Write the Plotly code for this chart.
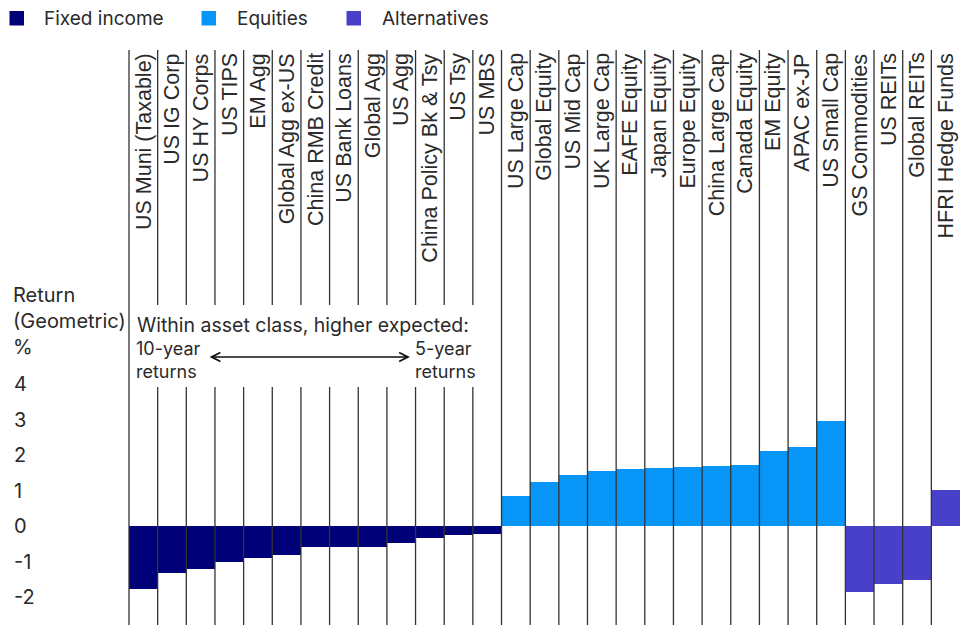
import plotly.graph_objects as go

categories = [
    "US Muni (Taxable)", "US IG Corp", "US HY Corps", "US TIPS", "EM Agg",
    "Global Agg ex-US", "China RMB Credit", "US Bank Loans", "Global Agg", "US Agg",
    "China Policy Bk & Tsy", "US Tsy", "US MBS",
    "US Large Cap", "Global Equity", "US Mid Cap", "UK Large Cap", "EAFE Equity",
    "Japan Equity", "Europe Equity", "China Large Cap", "Canada Equity", "EM Equity",
    "APAC ex-JP", "US Small Cap",
    "GS Commodities", "US REITs", "Global REITs", "HFRI Hedge Funds",
]
returns = [
    -1.77, -1.31, -1.21, -1.00, -0.89, -0.82, -0.58, -0.58, -0.58, -0.47, -0.33, -0.24, -0.22,
    0.85, 1.24, 1.44, 1.55, 1.61, 1.63, 1.66, 1.69, 1.72, 2.11, 2.22, 2.96,
    -1.85, -1.62, -1.51, 1.01,
]
groups = ["Fixed income"] * 13 + ["Equities"] * 12 + ["Alternatives"] * 4
group_names = ["Fixed income", "Equities", "Alternatives"]
group_colors = {"Fixed income": "#000078", "Equities": "#0795F7", "Alternatives": "#4840C9"}
tick_vals = [-2, -1, 0, 1, 2, 3, 4]
tick_text = ["-2", "-1", "0", "1", "2", "3", "4"]

W, H = 971, 625
TXT = "#2a2a2a"
SANS = "Inter, 'Noto Sans', sans-serif"

fig = go.Figure()
for g in group_names:
    xs = [c for c, gg in zip(categories, groups) if gg == g]
    ys = [v for v, gg in zip(returns, groups) if gg == g]
    fig.add_trace(go.Bar(x=xs, y=ys, name=g, marker=dict(color=group_colors[g], line=dict(width=0)),
                         width=1.0, showlegend=False))

n = len(categories)
px_per = (960 - 129) / n
x_left = -0.5 - 129 / px_per
x_right = n - 0.5 + (W - 960) / px_per
zero_px = 526
unit_px = 35.5
y_bot = -(H - zero_px) / unit_px
y_top = zero_px / unit_px


def py(p):
    return 1 - p / H


def pxx(p):
    return p / W


shapes = []
top_line = py(50)
gap_top = py(305)
gap_bot = py(387)
for i in range(n):
    xb = i - 0.5
    if 1 <= i <= 12:
        segs = [(top_line, gap_top), (gap_bot, 0)]
    else:
        segs = [(top_line, 0)]
    for a, b in segs:
        shapes.append(dict(type="line", xref="x", yref="paper", x0=xb, x1=xb, y0=a, y1=b,
                           line=dict(color="#333333", width=1.3), layer="above"))

annotations = []
for i, c in enumerate(categories):
    annotations.append(dict(x=i, y=top_line - 0.002, xref="x", yref="paper", text=c, textangle=-90,
                            showarrow=False, xanchor="center", yanchor="top",
                            font=dict(family="'Liberation Sans', Arial, sans-serif", size=21.5, color=TXT)))

# legend (manual, matching reference placement)
legend_sq_x = [9.5, 201.5, 346.5]
legend_txt_x = [42, 235, 380]
for g, sx, tx in zip(group_names, legend_sq_x, legend_txt_x):
    shapes.append(dict(type="rect", xref="paper", yref="paper", x0=pxx(sx), x1=pxx(sx + 14.5),
                       y0=py(25.5), y1=py(11), fillcolor=group_colors[g], line=dict(width=0)))
    annotations.append(dict(x=pxx(tx), y=py(18.5), xref="paper", yref="paper", text=g, showarrow=False,
                            xanchor="left", yanchor="middle", font=dict(family=SANS, size=19, color=TXT)))

annotations.append(dict(x=pxx(11), y=py(281), xref="paper", yref="paper",
                        text="Return<br>(Geometric)<br>%", showarrow=False, align="left",
                        xanchor="left", yanchor="top", font=dict(family=SANS, size=20, color=TXT)))
annotations.append(dict(x=pxx(135), y=py(325), xref="paper", yref="paper",
                        text="Within asset class, higher expected:", showarrow=False,
                        xanchor="left", yanchor="middle", font=dict(family=SANS, size=19.5, color=TXT)))
for txt, xp in [("10-year<br>returns", 134), ("5-year<br>returns", 413)]:
    annotations.append(dict(x=pxx(xp), y=py(359.5), xref="paper", yref="paper", text=txt, showarrow=False,
                            align="left", xanchor="left", yanchor="middle",
                            font=dict(family=SANS, size=18, color=TXT)))
annotations.append(dict(x=pxx(410), y=py(357), xref="paper", yref="paper", text="", showarrow=True,
                        ax=-202, ay=0, axref="pixel", ayref="pixel", arrowhead=5, arrowside="end+start",
                        arrowsize=1.1, arrowwidth=1.6, arrowcolor="#111", standoff=0, startstandoff=0))

fig.update_layout(
    width=W, height=H,
    margin=dict(l=0, r=0, t=0, b=0, autoexpand=False),
    paper_bgcolor="white", plot_bgcolor="white",
    bargap=0, barmode="overlay",
    showlegend=False,
    xaxis=dict(type="category", categoryorder="array", categoryarray=categories,
               range=[x_left, x_right], showticklabels=False, showgrid=False, zeroline=False,
               showline=False, ticks="", fixedrange=True, automargin=False),
    yaxis=dict(range=[y_bot, y_top], tickvals=tick_vals, ticktext=tick_text,
               ticklabelposition="inside", ticklabelstandoff=11, showgrid=False, zeroline=False,
               showline=False, ticks="", tickfont=dict(family=SANS, size=20, color=TXT),
               fixedrange=True, automargin=False),
    shapes=shapes,
    annotations=annotations,
)

fig.write_html("out.html", config={"displayModeBar": False},
               post_script="document.body.style.margin='0';document.body.style.overflow='hidden';")
